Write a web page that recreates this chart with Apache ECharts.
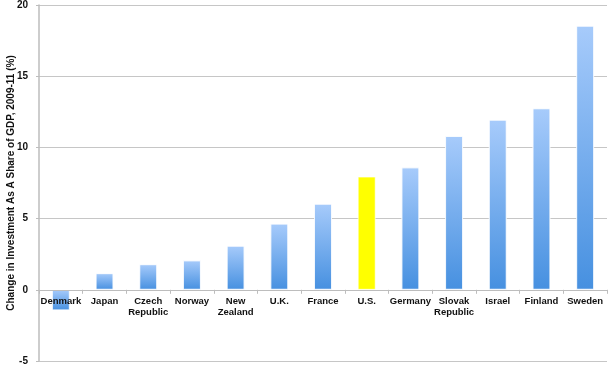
<!DOCTYPE html>
<html>
<head>
<meta charset="utf-8">
<script src="https://cdn.jsdelivr.net/npm/echarts@6/dist/echarts.min.js"></script>
<style>html,body{margin:0;padding:0;background:#fff}#c{width:615px;height:368px}</style>
</head>
<body>
<div id="c"></div>
<script>
var categories = ["Denmark","Japan","Czech\nRepublic","Norway","New\nZealand","U.K.","France","U.S.","Germany","Slovak\nRepublic","Israel","Finland","Sweden"];
var values = [-1.45,1.17,1.8,2.07,3.1,4.65,6.05,7.95,8.6,10.8,11.95,12.75,18.55];
var highlight = "U.S.";
var yTicks = {min:-5,max:20,interval:5};
var yName = "Change in Investment As A Share of GDP, 2009-11 (%)";

var blue = new echarts.graphic.LinearGradient(0,0,0,1,[{offset:0,color:"#a7cbfb"},{offset:1,color:"#4690e0"}]);
var chart = echarts.init(document.getElementById("c"));
var option = {
  animation:false,
  grid:{left:39,right:8,top:5,bottom:7,containLabel:false,outerBoundsMode:"none"},
  xAxis:{
    type:"category",data:categories,offset:0,z:10,
    axisLine:{onZero:false,lineStyle:{color:"#bdbdbd",width:1}},
    axisTick:{show:true,length:4,lineStyle:{color:"#bdbdbd"}},
    axisLabel:{color:"#111",fontFamily:"Liberation Sans",fontWeight:"bold",fontSize:9.5,margin:6,interval:0,lineHeight:11}
  },
  yAxis:{
    type:"value",min:yTicks.min,max:yTicks.max,interval:yTicks.interval,
    name:yName,nameLocation:"middle",nameGap:23,nameRotate:90,nameMoveOverlap:false,
    nameTextStyle:{color:"#111",fontFamily:"Liberation Sans",fontWeight:"bold",fontSize:10},
    axisLine:{show:true,lineStyle:{color:"#bdbdbd",width:1.5}},
    axisTick:{show:true,length:3,lineStyle:{color:"#bdbdbd"}},
    axisLabel:{color:"#111",fontFamily:"Liberation Sans",fontWeight:"bold",fontSize:10,margin:11},
    splitLine:{lineStyle:{color:"#c6c6c6",width:1}}
  },
  series:[{
    type:"bar",barWidth:18,z:2,
    data:values.map(function(v,i){
      return {value:v,itemStyle:{color:categories[i]===highlight?"#ffff00":blue,borderColor:"rgba(255,255,255,0.6)",borderWidth:1}};
    })
  }]
};
chart.setOption(option);
// move the category axis onto the zero line of the value axis
var yZero = chart.convertToPixel({yAxisIndex:0},0);
var yMin = chart.convertToPixel({yAxisIndex:0},yTicks.min);
chart.setOption({xAxis:{offset:-(yMin-yZero)}});
</script>
</body>
</html>
